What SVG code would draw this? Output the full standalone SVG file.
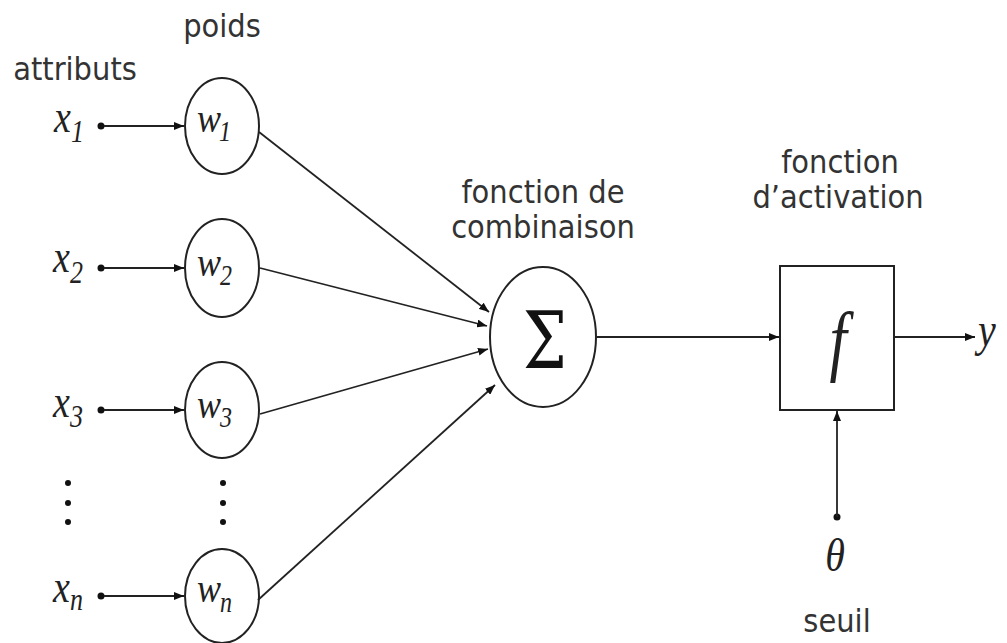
<svg xmlns="http://www.w3.org/2000/svg" width="1007" height="643" viewBox="0 0 1007 643">
<defs>
<marker id="arr" viewBox="0 0 10 8" refX="10" refY="4" markerWidth="10" markerHeight="8" markerUnits="userSpaceOnUse" orient="auto">
<path d="M0,0 L10,4 L0,8 Z" fill="#111"/>
</marker>
<style>
.lbl{font-family:"DejaVu Sans",sans-serif;font-size:29px;fill:#333;text-anchor:middle}
.math{font-family:"Liberation Serif",serif;font-style:italic;fill:#222}
.node{fill:#fff;stroke:#222;stroke-width:2}
.edge{stroke:#222;stroke-width:1.8;fill:none;marker-end:url(#arr)}
.dot{fill:#111}
</style>
</defs>
<rect width="1007" height="643" fill="#fff"/>

<g id="labels">
<text class="lbl" transform="translate(222,37) scale(1,1.12)">poids</text>
<text class="lbl" transform="translate(75,80) scale(1,1.12)">attributs</text>
<text class="lbl" transform="translate(543,203) scale(1,1.12)">fonction de</text>
<text class="lbl" transform="translate(543,238) scale(1,1.12)">combinaison</text>
<text class="lbl" transform="translate(840,173) scale(1,1.12)">fonction</text>
<text class="lbl" transform="translate(838,208) scale(1,1.12)">d’activation</text>
<text class="lbl" transform="translate(837,632) scale(1,1.12)">seuil</text>
</g>

<g id="inputs">
<text class="math" font-size="38" transform="translate(54,132) scale(1,1.2)">x</text>
<text class="math" font-size="26" transform="translate(71,142) scale(1,1.2)">1</text>
<text class="math" font-size="38" transform="translate(53,272) scale(1,1.2)">x</text>
<text class="math" font-size="26" transform="translate(70,283) scale(1,1.2)">2</text>
<text class="math" font-size="38" transform="translate(53,417) scale(1,1.2)">x</text>
<text class="math" font-size="26" transform="translate(70,427) scale(1,1.2)">3</text>
<text class="math" font-size="38" transform="translate(53,602) scale(1,1.2)">x</text>
<text class="math" font-size="26" transform="translate(70,610) scale(1,1.2)">n</text>
<circle class="dot" cx="101" cy="126" r="3.5"/>
<circle class="dot" cx="101" cy="268" r="3.5"/>
<circle class="dot" cx="101" cy="410" r="3.5"/>
<circle class="dot" cx="101" cy="596" r="3.5"/>
<circle class="dot" cx="68" cy="483" r="3"/>
<circle class="dot" cx="68" cy="503" r="3"/>
<circle class="dot" cx="68" cy="522" r="3"/>
<circle class="dot" cx="223" cy="483" r="3"/>
<circle class="dot" cx="223" cy="503" r="3"/>
<circle class="dot" cx="223" cy="522" r="3"/>
</g>

<g id="w1">
<ellipse class="node" cx="222" cy="126" rx="37" ry="48"/>
<text class="math" font-size="36" transform="translate(197,132) scale(1,1.2)">w</text>
<text class="math" font-size="24" transform="translate(219,141) scale(1,1.2)">1</text>
</g>
<g id="w2">
<ellipse class="node" cx="222" cy="268" rx="37" ry="49"/>
<text class="math" font-size="36" transform="translate(197,276) scale(1,1.2)">w</text>
<text class="math" font-size="24" transform="translate(220,285) scale(1,1.2)">2</text>
</g>
<g id="w3">
<ellipse class="node" cx="222" cy="410" rx="37" ry="48"/>
<text class="math" font-size="36" transform="translate(197,418) scale(1,1.2)">w</text>
<text class="math" font-size="24" transform="translate(220,427) scale(1,1.2)">3</text>
</g>
<g id="wn">
<ellipse class="node" cx="222" cy="596" rx="37" ry="47"/>
<text class="math" font-size="36" transform="translate(197,602) scale(1,1.2)">w</text>
<text class="math" font-size="24" transform="translate(220,612) scale(1,1.2)">n</text>
</g>

<g id="sum">
<ellipse class="node" cx="543" cy="337" rx="53" ry="70"/>
<text font-family="'DejaVu Serif',serif" font-size="62" fill="#111" text-anchor="middle" transform="translate(545,368) scale(1,1.27)">Σ</text>
</g>

<g id="activation">
<rect class="node" x="780" y="266" width="114" height="144"/>
<text class="math" font-size="62" text-anchor="middle" transform="translate(838,366) scale(1,1.27)">f</text>
</g>

<g id="threshold">
<circle class="dot" cx="837" cy="517" r="3.5"/>
<text class="math" font-size="40" text-anchor="middle" transform="translate(835,571) scale(1,1.15)">θ</text>
</g>

<g id="output">
<text class="math" font-size="40" transform="translate(978,346) scale(1,1.2)">y</text>
</g>

<g id="connectors">
<line class="edge" x1="104" y1="126" x2="184" y2="126"/>
<line class="edge" x1="104" y1="268" x2="184" y2="268"/>
<line class="edge" x1="104" y1="410" x2="184" y2="410"/>
<line class="edge" x1="104" y1="596" x2="184" y2="596"/>
<line class="edge" x1="259" y1="132" x2="489" y2="312"/>
<line class="edge" x1="260" y1="268" x2="487" y2="326"/>
<line class="edge" x1="260" y1="414" x2="488" y2="349"/>
<line class="edge" x1="258" y1="600" x2="495" y2="385"/>
<line class="edge" x1="597" y1="337" x2="779" y2="337"/>
<line class="edge" x1="894" y1="337" x2="975" y2="337"/>
<line class="edge" x1="837" y1="517" x2="837" y2="411"/>
</g>
</svg>
